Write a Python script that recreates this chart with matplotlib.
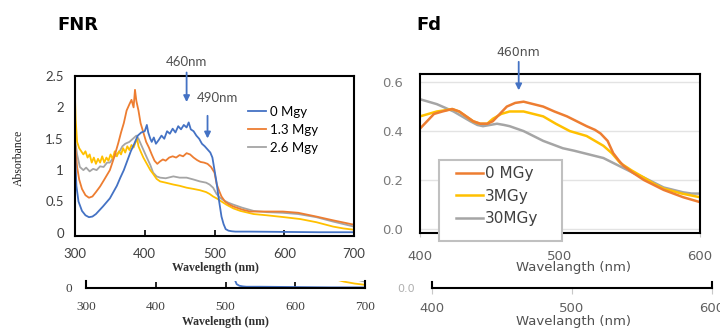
import matplotlib.pyplot as plt
from matplotlib.patches import Rectangle

# FNR spectra (wavelength nm, absorbance)
wl_0 = [300, 302, 305, 310, 315, 320, 325, 330, 340, 350,
        360, 365, 370, 375, 380, 385, 390, 395, 400, 403,
        405, 408, 410, 413, 416, 420, 424, 428, 432, 436,
        440, 444, 448, 452, 456, 460, 463, 466, 470, 474,
        478, 482, 486, 490, 494, 497, 500, 503, 506, 510,
        513, 516, 520, 525, 530, 550, 600, 650, 700]
abs_0 = [1.30, 0.75, 0.50, 0.35, 0.28, 0.25, 0.26, 0.30, 0.42, 0.55,
         0.75, 0.88, 1.00, 1.15, 1.30, 1.42, 1.55, 1.60, 1.62, 1.72,
         1.60, 1.50, 1.45, 1.52, 1.42, 1.48, 1.55, 1.50, 1.62, 1.58,
         1.66, 1.60, 1.70, 1.65, 1.72, 1.68, 1.76, 1.65, 1.62, 1.55,
         1.50, 1.42, 1.38, 1.33, 1.28, 1.20, 1.00, 0.80, 0.55, 0.26,
         0.14, 0.06, 0.035, 0.025, 0.02, 0.02, 0.015, 0.01, 0.01]

wl_13 = [300, 303, 306, 310, 315, 320, 325, 330, 336, 342,
         350, 356, 362, 366, 370, 374, 378, 381, 384, 386,
         388, 391, 394, 398, 402, 406, 410, 414, 418, 422,
         426, 430, 435, 440, 445, 450, 455, 460, 465, 470,
         475, 480, 485, 490, 495, 500, 503, 507, 510, 515,
         520, 527, 540, 551, 575, 598, 620, 646, 670, 700]
abs_13 = [1.42, 1.05, 0.85, 0.70, 0.60, 0.56, 0.58, 0.65, 0.74, 0.85,
          1.00, 1.20, 1.43, 1.60, 1.75, 1.95, 2.05, 2.12, 2.00, 2.28,
          2.10, 1.95, 1.75, 1.60, 1.45, 1.36, 1.25, 1.15, 1.10, 1.14,
          1.17, 1.15, 1.20, 1.22, 1.20, 1.24, 1.22, 1.27, 1.25, 1.20,
          1.16, 1.13, 1.12, 1.10, 1.05, 0.96, 0.78, 0.66, 0.58, 0.50,
          0.46, 0.42, 0.37, 0.34, 0.34, 0.34, 0.32, 0.26, 0.20, 0.13]

wl_26 = [300, 303, 307, 312, 316, 321, 326, 331, 336, 341,
         346, 350, 355, 360, 364, 368, 372, 378, 383, 388,
         391, 395, 399, 403, 408, 412, 417, 422, 430, 441,
         450, 460, 470, 479, 488, 493, 498, 503, 508, 513,
         520, 527, 540, 556, 575, 598, 620, 646, 670, 700]
abs_26 = [1.50, 1.25, 1.05, 1.00, 1.04, 0.98, 1.02, 1.00, 1.06, 1.05,
          1.12, 1.12, 1.20, 1.25, 1.30, 1.38, 1.42, 1.45, 1.50, 1.55,
          1.50, 1.40, 1.30, 1.20, 1.08, 0.96, 0.90, 0.88, 0.87, 0.90,
          0.88, 0.88, 0.85, 0.82, 0.80, 0.77, 0.72, 0.62, 0.56, 0.52,
          0.48, 0.45, 0.40, 0.35, 0.33, 0.32, 0.30, 0.25, 0.18, 0.10]

# extra yellow trace (not in legend)
wl_y = [300, 301, 303, 306, 309, 312, 315, 318, 321, 324,
        327, 330, 333, 336, 339, 342, 345, 348, 351, 354,
        357, 360, 363, 366, 369, 372, 375, 378, 381, 384,
        387, 389, 391, 394, 398, 403, 408, 412, 417, 422,
        430, 441, 450, 460, 470, 479, 488, 493, 498, 503,
        510, 517, 527, 537, 556, 575, 600, 623, 646, 670,
        685, 700]
abs_y = [2.15, 1.80, 1.45, 1.35, 1.30, 1.25, 1.30, 1.20, 1.25, 1.12,
         1.20, 1.10, 1.18, 1.12, 1.22, 1.12, 1.20, 1.15, 1.25, 1.18,
         1.30, 1.22, 1.30, 1.25, 1.35, 1.28, 1.38, 1.32, 1.40, 1.36,
         1.45, 1.50, 1.38, 1.30, 1.20, 1.10, 1.00, 0.94, 0.86, 0.82,
         0.80, 0.77, 0.75, 0.72, 0.70, 0.68, 0.65, 0.62, 0.58, 0.55,
         0.50, 0.45, 0.39, 0.35, 0.30, 0.28, 0.25, 0.22, 0.17, 0.10,
         0.07, 0.05]

# Fd spectra
fd_wl_0 = [400, 405, 410, 416, 423, 428, 433, 438, 443, 448,
           452, 457, 462, 468, 474, 481, 488, 496, 505, 512,
           519, 525, 529, 534, 538, 542, 545, 552, 560, 567,
           574, 581, 588, 594, 600]
fd_abs_0 = [0.41, 0.44, 0.47, 0.48, 0.49, 0.48, 0.46, 0.44, 0.43, 0.43,
            0.44, 0.47, 0.50, 0.515, 0.52, 0.51, 0.50, 0.48, 0.46, 0.44,
            0.42, 0.405, 0.39, 0.36, 0.31, 0.28, 0.26, 0.23, 0.20, 0.18,
            0.16, 0.145, 0.13, 0.12, 0.11]

fd_wl_3 = [400, 406, 412, 418, 423, 428, 433, 438, 443, 448,
           452, 458, 464, 469, 474, 481, 488, 497, 507, 513,
           519, 525, 531, 537, 543, 551, 560, 567, 574, 587, 600]
fd_abs_3 = [0.46, 0.47, 0.48, 0.485, 0.49, 0.48, 0.46, 0.44, 0.43, 0.43,
            0.45, 0.47, 0.48, 0.48, 0.48, 0.47, 0.46, 0.43, 0.40, 0.39,
            0.38, 0.36, 0.34, 0.31, 0.27, 0.24, 0.21, 0.185, 0.165, 0.145, 0.13]

fd_wl_30 = [400, 406, 412, 418, 424, 430, 436, 441, 445, 450,
            455, 460, 464, 469, 474, 481, 488, 495, 502, 510,
            517, 524, 531, 538, 545, 552, 560, 567, 574, 581,
            588, 594, 600]
fd_abs_30 = [0.53, 0.52, 0.51, 0.495, 0.48, 0.46, 0.44, 0.425, 0.42, 0.425,
             0.43, 0.425, 0.42, 0.41, 0.40, 0.38, 0.36, 0.345, 0.33, 0.32,
             0.31, 0.30, 0.29, 0.27, 0.25, 0.23, 0.21, 0.19, 0.17, 0.16,
             0.15, 0.145, 0.145]

BLUE, ORANGE, GRAY, YELLOW = '#4472C4', '#ED7D31', '#A5A5A5', '#FFC000'
W, H = 720, 331


def box(x0, y0, x1, y1):
    # pixel box (top-left origin) -> figure fraction rect
    return [x0 / W, 1 - y1 / H, (x1 - x0) / W, (y1 - y0) / H]


def ftext(x, y, s, **kw):
    fig.text(x / W, 1 - y / H, s, ha='center', va='center', **kw)


def plot_fnr(ax, lw):
    ax.plot(wl_26, abs_26, color=GRAY, lw=lw, label='2.6 Mgy')
    ax.plot(wl_y, abs_y, color=YELLOW, lw=lw)
    ax.plot(wl_13, abs_13, color=ORANGE, lw=lw, label='1.3 Mgy')
    ax.plot(wl_0, abs_0, color=BLUE, lw=lw, label='0 Mgy')


fig = plt.figure(figsize=(7.2, 3.31), dpi=100)

# ---- FNR panel ----
ax1 = fig.add_axes(box(75, 76, 354, 236))
plot_fnr(ax1, 1.3)
ax1.set_xlim(300, 700)
ax1.set_ylim(-0.05, 2.5)
ax1.set_xticks([300, 400, 500, 600, 700])
ax1.set_yticks([0, 0.5, 1, 1.5, 2, 2.5])
ax1.set_yticklabels(['0', '0.5', '1', '1.5', '2', '2.5'])
ax1.tick_params(axis='x', direction='in', length=4, width=1.2, pad=9,
                labelsize=9.5, labelcolor='#404040')
ax1.tick_params(axis='y', length=0, pad=8, labelsize=9.5, labelcolor='#404040')
for lab in ax1.get_xticklabels() + ax1.get_yticklabels():
    lab.set_family('Lato')
for s in ax1.spines.values():
    s.set_linewidth(1.5)
h, l = ax1.get_legend_handles_labels()
ax1.legend(h[::-1], l[::-1], loc='upper left', bbox_to_anchor=(236 / W, 1 - 94 / H),
           bbox_transform=fig.transFigure, frameon=False,
           handlelength=1.4, handletextpad=0.3, labelspacing=0.45,
           prop={'family': 'Lato', 'size': 9.5})

arrow = dict(arrowstyle='-|>', color=BLUE, lw=1.3, mutation_scale=9)
ax1.annotate('', xy=(460, 2.04), xytext=(460, 2.60), arrowprops=arrow,
             annotation_clip=False)
ax1.text(460, 2.73, '460nm', ha='center', va='center', fontsize=9.5,
         color='#505050', family='Lato', clip_on=False)
ax1.annotate('', xy=(490, 1.46), xytext=(490, 1.91), arrowprops=arrow,
             annotation_clip=False)
ax1.text(505, 2.15, '490nm', ha='center', va='center', fontsize=9.5,
         color='#505050', family='Lato', clip_on=False)

ftext(78, 25, 'FNR', fontsize=13, fontweight='bold', family='DejaVu Sans')
ftext(19, 158, 'Absorbance', rotation=90, fontsize=8.5,
      family='Liberation Serif', color='#202020')
ftext(215, 268, 'Wavelength (nm)', fontsize=8.5, fontweight='bold',
      family='Liberation Serif', color='#303030')

# ---- Fd panel ----
ax2 = fig.add_axes(box(420, 74, 700, 233))
ax2.plot(fd_wl_30, fd_abs_30, color=GRAY, lw=1.8, label='30MGy')
ax2.plot(fd_wl_3, fd_abs_3, color=YELLOW, lw=1.8, label='3MGy')
ax2.plot(fd_wl_0, fd_abs_0, color=ORANGE, lw=1.8, label='0 MGy')
ax2.set_xlim(400, 600)
ax2.set_ylim(-0.016, 0.633)
ax2.set_xticks([400, 500, 600])
ax2.set_yticks([0.0, 0.2, 0.4, 0.6])
ax2.set_yticklabels(['0.0', '0.2', '0.4', '0.6'])
ax2.grid(axis='y', color='#e3e3e3', lw=1)
ax2.set_axisbelow(True)
ax2.tick_params(axis='x', direction='out', length=3, color='#c8c8c8',
                pad=9, labelsize=9.5, labelcolor='#606060')
ax2.tick_params(axis='y', length=0, pad=12, labelsize=9.5, labelcolor='#7a7a7a')
for s in ax2.spines.values():
    s.set_linewidth(1.5)

# legend box drawn separately so its size matches the reference
ax2.add_patch(Rectangle((439 / W, 1 - 241 / H), 123 / W, 81 / H,
                        transform=fig.transFigure, facecolor='white',
                        edgecolor='#c0c0c0', lw=1.5, zorder=5, clip_on=False))
h, l = ax2.get_legend_handles_labels()
leg = ax2.legend(h[::-1], l[::-1], loc='upper left',
                 bbox_to_anchor=(456 / W, 1 - 166 / H), bbox_transform=fig.transFigure,
                 frameon=False, fontsize=11,
                 handlelength=1.75, handletextpad=0.15, labelspacing=0.5,
                 borderpad=0, borderaxespad=0)
leg.set_zorder(6)
for t in leg.get_texts():
    t.set_color('#404040')
ax2.annotate('', xy=(470.5, 0.555), xytext=(470.5, 0.694), arrowprops=arrow,
             annotation_clip=False)
ax2.text(470.5, 0.72, '460nm', ha='center', va='center', fontsize=9,
         color='#505050', clip_on=False)

ftext(429, 25, 'Fd', fontsize=13, fontweight='bold', family='DejaVu Sans')
ftext(573, 268, 'Wavelangth (nm)', fontsize=9.5, color='#505050')

# ---- repeated bottom strips ----
ax3 = fig.add_axes(box(86, 281, 365, 288))
plot_fnr(ax3, 1.3)
ax3.set_xlim(300, 700)
ax3.set_ylim(0, 0.11)
ax3.set_xticks([300, 400, 500, 600, 700])
ax3.set_yticks([0])
ax3.spines['top'].set_visible(False)
for s in ax3.spines.values():
    s.set_linewidth(1.5)
ax3.tick_params(axis='x', direction='in', length=4, width=1.2, pad=9,
                labelsize=9.5, labelcolor='#404040')
ax3.tick_params(axis='y', length=0, pad=10, labelsize=9.5, labelcolor='#404040')
for lab in ax3.get_xticklabels() + ax3.get_yticklabels():
    lab.set_family('Liberation Serif')
ftext(225, 322, 'Wavelength (nm)', fontsize=8.5, fontweight='bold',
      family='Liberation Serif', color='#303030')

ax4 = fig.add_axes(box(432, 282, 712, 288))
ax4.set_xlim(400, 600)
ax4.set_ylim(0, 0.03)
ax4.set_xticks([400, 500, 600])
ax4.set_yticks([0])
ax4.set_yticklabels(['0.0'])
ax4.spines['top'].set_visible(False)
for s in ax4.spines.values():
    s.set_linewidth(1.5)
ax4.tick_params(axis='x', direction='out', length=4, color='#c8c8c8', pad=6,
                labelsize=9.5, labelcolor='#606060')
ax4.tick_params(axis='y', length=0, pad=12, labelsize=8, labelcolor='#b0b0b0')
ftext(573, 321, 'Wavelangth (nm)', fontsize=9.5, color='#505050')

fig.savefig('out.png', dpi=100)
